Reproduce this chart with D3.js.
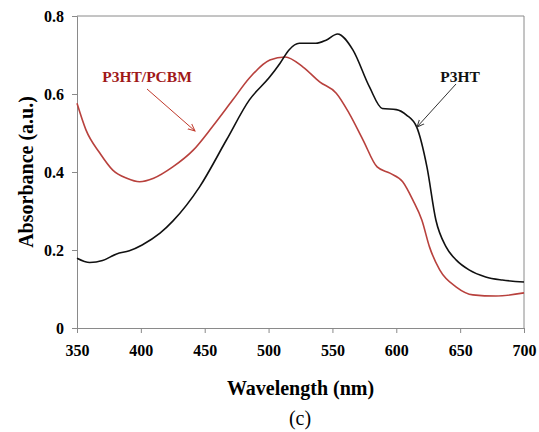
<!DOCTYPE html>
<html>
<head>
<meta charset="utf-8">
<script src="https://cdn.jsdelivr.net/npm/d3@7"></script>
<style>
  body { margin: 0; background: #fff; }
</style>
</head>
<body>
<div id="chart"></div>
<script>
// wavelength (nm) / absorbance (a.u.)
const p3htWl = [350, 360, 370, 381, 391, 401, 415, 425, 446, 467, 485, 501, 509, 516, 524, 537, 545, 554, 566, 579, 589, 600, 608, 616, 624, 631, 639, 647, 657, 670, 683, 700];
const p3htAbs = [0.179, 0.168, 0.173, 0.19, 0.198, 0.213, 0.243, 0.274, 0.362, 0.482, 0.585, 0.644, 0.679, 0.713, 0.73, 0.73, 0.738, 0.754, 0.713, 0.618, 0.563, 0.56, 0.546, 0.515, 0.413, 0.277, 0.208, 0.174, 0.149, 0.131, 0.123, 0.118];

const blendWl = [350, 357, 368, 378, 389, 399, 410, 425, 441, 456, 472, 485, 501, 513, 527, 540, 553, 563, 574, 585, 595, 605, 613, 620, 626, 634, 647, 660, 678, 700];
const blendAbs = [0.576, 0.508, 0.448, 0.405, 0.384, 0.375, 0.384, 0.413, 0.456, 0.516, 0.585, 0.641, 0.687, 0.695, 0.669, 0.631, 0.602, 0.551, 0.482, 0.413, 0.397, 0.375, 0.328, 0.277, 0.208, 0.149, 0.105, 0.085, 0.082, 0.09];

const xTicks = [350, 400, 450, 500, 550, 600, 650, 700];
const yTicks = [0, 0.2, 0.4, 0.6, 0.8];

const W = 539, H = 432;
const margin = {top: 16, right: 15, bottom: 104, left: 77};
const serif = 'Liberation Serif';

const svg = d3.select('#chart').append('svg')
  .attr('width', W)
  .attr('height', H)
  .attr('font-family', serif);

const x = d3.scaleLinear().domain([350, 700]).range([margin.left, W - margin.right]);
const y = d3.scaleLinear().domain([0, 0.8]).range([H - margin.bottom, margin.top]);

const axisColor = '#8a8a8a';

// frame (top + right)
svg.append('path')
  .attr('d', `M${x(350)},${y(0.8)}H${x(700)}V${y(0)}`)
  .attr('fill', 'none')
  .attr('stroke', axisColor);

let xAxis = svg.append('g')
  .attr('transform', `translate(0,${y(0)})`)
  .call(d3.axisBottom(x).tickValues(xTicks).tickSize(5).tickPadding(12).tickFormat(d3.format('d')));
let yAxis = svg.append('g')
  .attr('transform', `translate(${x(350)},0)`)
  .call(d3.axisLeft(y).tickValues(yTicks).tickSize(5).tickPadding(8).tickFormat(d => d === 0 ? '0' : d3.format('.1f')(d)));

for (let ax of [xAxis, yAxis]) {
  ax.attr('font-family', serif).attr('font-size', 16);
  ax.select('.domain').attr('stroke', axisColor);
  ax.selectAll('.tick line').attr('stroke', axisColor);
  ax.selectAll('.tick text')
    .attr('fill', '#000')
    .attr('font-family', serif)
    .attr('font-weight', 'bold');
}

const line = d3.line()
  .x(d => x(d[0]))
  .y(d => y(d[1]))
  .curve(d3.curveMonotoneX);

svg.append('path')
  .datum(d3.zip(blendWl, blendAbs))
  .attr('fill', 'none')
  .attr('stroke', '#b8413d')
  .attr('stroke-width', 1.6)
  .attr('d', line);

svg.append('path')
  .datum(d3.zip(p3htWl, p3htAbs))
  .attr('fill', 'none')
  .attr('stroke', '#111')
  .attr('stroke-width', 1.6)
  .attr('d', line);

// arrowheads
let defs = svg.append('defs');
for (let [id, color] of [['arrRed', '#c0392b'], ['arrBlack', '#333']]) {
  defs.append('marker')
    .attr('id', id)
    .attr('viewBox', '0 0 10 10')
    .attr('refX', 9).attr('refY', 5)
    .attr('markerWidth', 8).attr('markerHeight', 8)
    .attr('orient', 'auto')
    .append('path')
    .attr('d', 'M0,1L9,5L0,9')
    .attr('fill', 'none')
    .attr('stroke', color)
    .attr('stroke-width', 1.2);
}

function label(sel, size, weight) {
  return sel.attr('font-family', serif).attr('font-size', size).attr('font-weight', weight);
}

// annotations
label(svg.append('text'), 15.5, 'bold')
  .attr('x', 147).attr('y', 82)
  .attr('text-anchor', 'middle')
  .attr('fill', '#a01818')
  .text('P3HT/PCBM');
svg.append('line')
  .attr('x1', 147).attr('y1', 89)
  .attr('x2', 195).attr('y2', 131)
  .attr('stroke', '#c0392b')
  .attr('stroke-width', 1)
  .attr('marker-end', 'url(#arrRed)');

label(svg.append('text'), 15.5, 'bold')
  .attr('x', 460).attr('y', 82)
  .attr('text-anchor', 'middle')
  .attr('fill', '#111')
  .text('P3HT');
svg.append('line')
  .attr('x1', 456).attr('y1', 84)
  .attr('x2', 417).attr('y2', 127)
  .attr('stroke', '#333')
  .attr('stroke-width', 1)
  .attr('marker-end', 'url(#arrBlack)');

// axis titles
label(svg.append('text'), 20, 'bold')
  .attr('transform', `translate(33,${(y(0) + y(0.8)) / 2}) rotate(-90)`)
  .attr('text-anchor', 'middle')
  .text('Absorbance (a.u.)');
label(svg.append('text'), 20, 'bold')
  .attr('x', (x(350) + x(700)) / 2).attr('y', 395)
  .attr('text-anchor', 'middle')
  .text('Wavelength (nm)');
label(svg.append('text'), 20, 'normal')
  .attr('x', 300).attr('y', 425)
  .attr('text-anchor', 'middle')
  .text('(c)');
</script>
</body>
</html>
